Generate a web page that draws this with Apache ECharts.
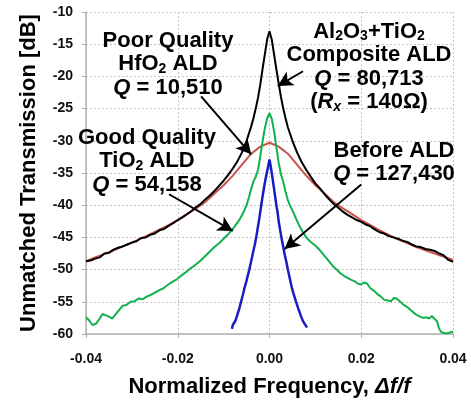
<!DOCTYPE html>
<html><head><meta charset="utf-8">
<script src="https://cdn.jsdelivr.net/npm/echarts@6/dist/echarts.min.js"></script>
<style>html,body{margin:0;padding:0;background:#fff}#c{width:471px;height:403px}</style>
</head><body><div id="c"></div>
<script>
// x tick values / y tick values
const xTicks = [-0.04, -0.02, 0.00, 0.02, 0.04];
const yTicks = [-60, -55, -50, -45, -40, -35, -30, -25, -20, -15, -10];

// Al2O3+TiO2 composite ALD (black), [Δf/f, dB]
const composite = [
[-0.040,-48.7],[-0.039,-48.6],[-0.038,-48.3],[-0.037,-48.1],[-0.036,-47.5],[-0.035,-47.4],[-0.034,-46.9],[-0.033,-46.6],
[-0.032,-46.4],[-0.031,-46.1],[-0.030,-45.8],[-0.029,-45.6],[-0.028,-45.1],[-0.027,-45.0],[-0.026,-44.6],[-0.025,-44.4],
[-0.024,-43.9],[-0.023,-43.7],[-0.022,-43.2],[-0.021,-42.8],[-0.020,-42.3],[-0.019,-41.9],[-0.018,-41.4],[-0.017,-40.9],
[-0.016,-40.3],[-0.015,-39.8],[-0.014,-39.1],[-0.013,-38.5],[-0.012,-37.8],[-0.011,-37.0],[-0.010,-36.2],[-0.009,-35.3],
[-0.008,-34.3],[-0.007,-33.2],[-0.006,-31.8],[-0.005,-30.0],[-0.004,-27.8],[-0.0035,-26.5],[-0.003,-25.0],[-0.0025,-23.3],
[-0.002,-21.2],[-0.0015,-18.8],[-0.001,-16.5],[-0.0005,-14.2],[0,-13.0],[0.0005,-14.3],[0.001,-16.6],[0.0015,-18.9],
[0.002,-21.1],[0.0025,-23.2],[0.003,-25.0],[0.0035,-26.5],[0.004,-27.9],[0.005,-30.0],[0.006,-31.8],[0.007,-33.3],
[0.008,-34.5],[0.009,-35.6],[0.010,-36.6],[0.011,-37.4],[0.012,-38.3],[0.013,-39.1],[0.014,-39.8],[0.015,-40.4],
[0.016,-41.0],[0.017,-41.5],[0.018,-41.9],[0.019,-42.3],[0.020,-42.6],[0.021,-43.0],[0.022,-43.3],[0.023,-43.8],
[0.024,-44.2],[0.025,-44.4],[0.026,-44.8],[0.027,-45.0],[0.028,-45.2],[0.029,-45.5],[0.030,-45.7],[0.031,-46.1],
[0.032,-46.4],[0.033,-46.5],[0.034,-46.8],[0.035,-46.9],[0.036,-47.1],[0.037,-47.5],[0.038,-47.8],[0.039,-48.5],[0.040,-48.8]
];

// Poor quality HfO2 ALD (red)
const hfo2 = [
[-0.040,-48.7],[-0.038,-48.1],[-0.036,-47.6],[-0.034,-47.0],[-0.032,-46.4],[-0.030,-45.8],[-0.028,-45.2],[-0.026,-44.5],
[-0.024,-43.8],[-0.022,-43.1],[-0.020,-42.3],[-0.018,-41.4],[-0.016,-40.5],[-0.014,-39.5],[-0.012,-38.2],[-0.010,-36.9],
[-0.008,-35.4],[-0.006,-33.7],[-0.004,-32.0],[-0.002,-30.9],[0,-30.3],[0.002,-30.9],[0.004,-32.0],[0.006,-33.7],
[0.008,-35.4],[0.010,-36.9],[0.012,-38.2],[0.014,-39.5],[0.016,-40.5],[0.018,-41.4],[0.020,-42.3],[0.022,-43.1],
[0.024,-43.9],[0.026,-44.6],[0.028,-45.3],[0.030,-45.9],[0.032,-46.5],[0.034,-47.0],[0.036,-47.5],[0.038,-48.0],[0.040,-48.5]
];

// Good quality TiO2 ALD (green)
const tio2 = [
[-0.0400,-57.4],[-0.0393,-57.9],[-0.0386,-58.6],[-0.0378,-58.4],[-0.0370,-57.6],[-0.0364,-56.9],[-0.0357,-57.1],[-0.0350,-57.3],
[-0.0343,-57.6],[-0.0336,-57.0],[-0.0328,-56.3],[-0.0320,-55.6],[-0.0312,-55.5],[-0.0303,-55.0],[-0.0294,-54.9],[-0.0285,-54.5],
[-0.0276,-54.6],[-0.0268,-54.2],[-0.0258,-53.9],[-0.0248,-53.5],[-0.0240,-53.2],[-0.0231,-52.9],[-0.0222,-52.4],[-0.0212,-51.9],
[-0.0202,-51.5],[-0.0192,-50.9],[-0.0182,-50.4],[-0.0172,-49.8],[-0.0162,-49.3],[-0.0150,-48.6],[-0.0140,-47.9],[-0.0130,-47.2],
[-0.0120,-46.5],[-0.0110,-45.9],[-0.0100,-45.2],[-0.0090,-44.5],[-0.0080,-43.7],[-0.0072,-42.9],[-0.0065,-42.2],[-0.0058,-41.3],
[-0.0050,-40.0],[-0.0045,-38.8],[-0.0040,-37.5],[-0.0035,-36.3],[-0.0030,-35.6],[-0.0025,-34.5],[-0.0020,-32.4],[-0.0015,-30.0],
[-0.0010,-28.0],[-0.0005,-26.5],[0,-25.7],[0.0005,-26.6],[0.0010,-28.5],[0.0015,-31.0],[0.0020,-33.4],[0.0025,-35.2],
[0.0030,-36.4],[0.0035,-37.9],[0.0040,-39.2],[0.0045,-40.1],[0.0050,-40.8],[0.0058,-42.1],[0.0065,-43.2],[0.0072,-44.1],
[0.0080,-45.0],[0.0088,-45.6],[0.0095,-46.0],[0.0103,-46.5],[0.0110,-47.0],[0.0118,-47.7],[0.0125,-48.3],[0.0133,-49.0],
[0.0140,-49.6],[0.0148,-50.1],[0.0155,-50.6],[0.0163,-51.0],[0.0170,-51.3],[0.0178,-51.6],[0.0185,-51.8],[0.0193,-52.2],
[0.0200,-52.3],[0.0207,-52.0],[0.0213,-52.2],[0.0220,-52.9],[0.0228,-53.3],[0.0235,-53.8],[0.0243,-54.2],[0.0250,-54.7],
[0.0258,-54.8],[0.0265,-54.9],[0.0271,-54.4],[0.0277,-54.5],[0.0284,-54.9],[0.0291,-55.4],[0.0298,-55.7],[0.0305,-56.1],
[0.0313,-56.6],[0.0320,-57.0],[0.0328,-57.3],[0.0335,-57.5],[0.0342,-57.4],[0.0348,-57.6],[0.0354,-57.2],[0.0359,-57.6],
[0.0365,-58.0],[0.0369,-59.0],[0.0373,-59.6],[0.0378,-59.8],[0.0385,-59.9],[0.0392,-59.8],[0.0400,-59.6]
];

// Before ALD (blue)
const beforeAld = [
[-0.0082,-59.2],[-0.0080,-58.6],[-0.0077,-58.3],[-0.0074,-57.9],[-0.0070,-57.0],[-0.0066,-56.1],[-0.0062,-55.0],[-0.0058,-53.9],
[-0.0055,-53.0],[-0.0050,-51.7],[-0.0044,-50.0],[-0.0040,-48.7],[-0.0036,-47.4],[-0.0032,-46.1],[-0.0029,-45.0],[-0.0026,-43.7],
[-0.0023,-42.4],[-0.0020,-41.0],[-0.0018,-40.0],[-0.0015,-38.6],[-0.0012,-37.3],[-0.0009,-36.1],[-0.0006,-35.0],[-0.0003,-34.0],
[0,-32.9],[0.0003,-34.1],[0.0006,-35.5],[0.0010,-37.5],[0.0013,-39.0],[0.0015,-40.0],[0.0018,-41.3],[0.0020,-42.5],
[0.0023,-43.8],[0.0026,-45.0],[0.0030,-46.5],[0.0033,-47.6],[0.0037,-48.9],[0.0040,-50.0],[0.0044,-51.3],[0.0048,-52.6],
[0.0053,-53.9],[0.0058,-55.0],[0.0062,-55.9],[0.0065,-56.5],[0.0069,-57.3],[0.0073,-58.0],[0.0076,-58.2],[0.0079,-58.7],[0.0082,-59.0]
];

// annotation arrows in data space: [tailX, tailY, headX, headY]
const arrows = [
  [0.0073, -19.2, 0.0018, -21.5],
  [-0.0149, -23.1, -0.0040, -32.1],
  [-0.0219, -38.3, -0.0080, -44.0],
  [0.0200, -36.8, 0.0033, -46.8]
];

const FONT = '"Liberation Sans", Arial, sans-serif';
const chart = echarts.init(document.getElementById('c'), null, {renderer: 'canvas'});

const LH = 23.5;
const rich = {
  n: {fontFamily: FONT, fontWeight: 'bold', fontSize: 22, lineHeight: LH, fill: '#000'},
  i: {fontFamily: FONT, fontWeight: 'bold', fontStyle: 'italic', fontSize: 22, lineHeight: LH, fill: '#000'},
  s: {fontFamily: FONT, fontWeight: 'bold', fontSize: 14, lineHeight: 14, verticalAlign: 'bottom', fill: '#000'},
  si: {fontFamily: FONT, fontWeight: 'bold', fontStyle: 'italic', fontSize: 14, lineHeight: 14, verticalAlign: 'bottom', fill: '#000'}
};
function label(x, y, text) {
  return {
    type: 'text', x: x, y: y, z: 100,
    style: {text: text, rich: rich, align: 'center', verticalAlign: 'top',
            fontFamily: FONT, fontWeight: 'bold', fontSize: 22, fill: '#000'}
  };
}

const arrowData = arrows.map(a => [{coord: [a[0], a[1]]}, {coord: [a[2], a[3]]}]);

const option = {
  animation: false,
  backgroundColor: '#fff',
  grid: {left: 86, right: 18, top: 12, bottom: 68, containLabel: false},
  xAxis: {
    type: 'value', min: xTicks[0], max: xTicks[xTicks.length - 1], interval: 0.02,
    name: 'Normalized Frequency, {it|Δf/f}', nameLocation: 'middle', nameGap: 42,
    nameTextStyle: {fontFamily: FONT, fontWeight: 'bold', fontSize: 22, color: '#000',
      rich: {it: {fontFamily: FONT, fontWeight: 'bold', fontStyle: 'italic', fontSize: 22, color: '#000'}}},
    axisLine: {show: true, onZero: false, lineStyle: {color: '#b0b0b0', width: 1.5}},
    axisTick: {show: true, length: 4, lineStyle: {color: '#b0b0b0'}},
    axisLabel: {margin: 18, fontFamily: FONT, fontWeight: 'bold', fontSize: 14, color: '#111',
      formatter: v => v.toFixed(2)},
    splitLine: {show: true, lineStyle: {color: '#c4c4c4', type: [2, 2], width: 1}}
  },
  yAxis: {
    type: 'value', min: yTicks[0], max: yTicks[yTicks.length - 1], interval: 5,
    name: 'Unmatched Transmission [dB]', nameLocation: 'middle', nameGap: 46,
    nameTextStyle: {fontFamily: FONT, fontWeight: 'bold', fontSize: 22, color: '#000'},
    axisLine: {show: true, onZero: false, lineStyle: {color: '#b0b0b0', width: 1.5}},
    axisTick: {show: true, length: 4, lineStyle: {color: '#b0b0b0'}},
    axisLabel: {margin: 13, fontFamily: FONT, fontWeight: 'bold', fontSize: 14, color: '#111'},
    splitLine: {show: true, lineStyle: {color: '#c4c4c4', type: [2, 2], width: 1}}
  },
  series: [
    {name: 'HfO2', type: 'line', data: hfo2, showSymbol: false, symbol: 'none',
     lineStyle: {color: '#c9534c', width: 2}, z: 2},
    {name: 'Composite', type: 'line', data: composite, showSymbol: false, symbol: 'none',
     lineStyle: {color: '#000000', width: 2}, z: 3},
    {name: 'TiO2', type: 'line', data: tio2, showSymbol: false, symbol: 'none',
     lineStyle: {color: '#12b04e', width: 2}, z: 4},
    {name: 'Before', type: 'line', data: beforeAld, showSymbol: false, symbol: 'none',
     lineStyle: {color: '#1b1bc4', width: 2.5}, z: 5,
     markLine: {silent: true, symbol: ['none', 'arrow'], symbolSize: [12, 15], precision: 6,
       lineStyle: {color: '#000', width: 2, type: 'solid'}, label: {show: false},
       emphasis: {disabled: true}, data: arrowData, z: 10}}
  ],
  graphic: [
    label(168, 29, '{n|Poor Quality}\n{n|HfO}{s|2}{n| ALD}\n{i|Q}{n| = 10,510}'),
    label(369, 20, '{n|Al}{s|2}{n|O}{s|3}{n|+TiO}{s|2}\n{n|Composite ALD}\n{i|Q}{n| = 80,713}\n{n|(}{i|R}{si|x}{n| = 140Ω)}'),
    label(147, 126, '{n|Good Quality}\n{n|TiO}{s|2}{n| ALD}\n{i|Q}{n| = 54,158}'),
    label(394, 139, '{n|Before ALD}\n{i|Q}{n| = 127,430}')
  ]
};
chart.setOption(option);
</script>
</body></html>
